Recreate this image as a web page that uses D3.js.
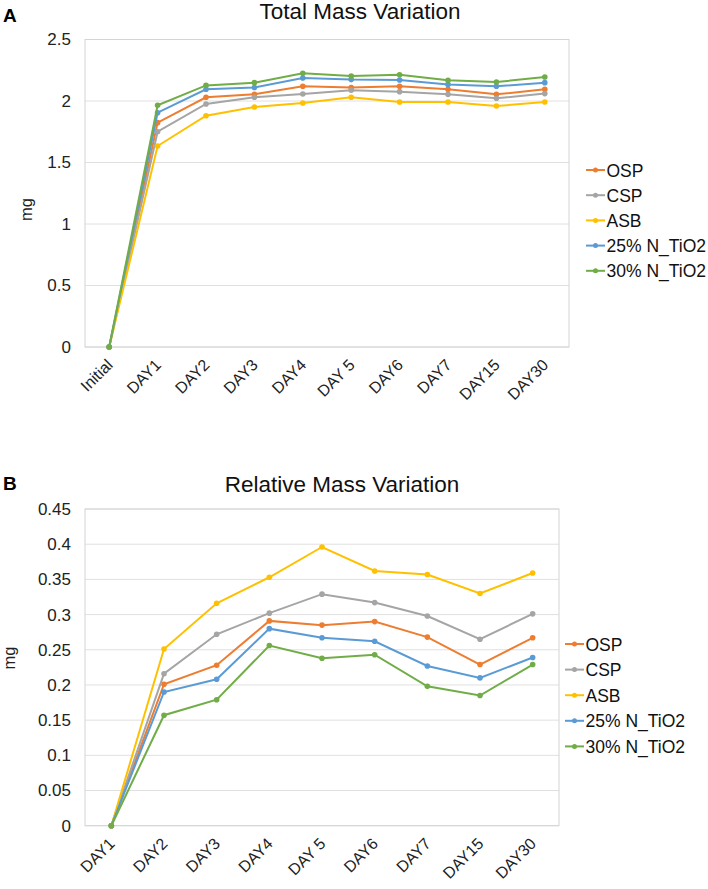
<!DOCTYPE html>
<html>
<head>
<meta charset="utf-8">
<script src="https://cdn.jsdelivr.net/npm/d3@7"></script>
<style>
body { margin: 0; background: #fff; }
text { font-family: "Liberation Sans", Arial, sans-serif; }
</style>
</head>
<body>
<svg width="708" height="889"></svg>
<script>
var seriesNames = ["OSP", "CSP", "ASB", "25% N_TiO2", "30% N_TiO2"];
var seriesColors = ["#ED7D31", "#A5A5A5", "#FFC000", "#5B9BD5", "#70AD47"];

var daysA = ["Initial", "DAY1", "DAY2", "DAY3", "DAY4", "DAY 5", "DAY6", "DAY7", "DAY15", "DAY30"];
var ospA  = [0, 1.824, 2.03, 2.054, 2.12, 2.11, 2.12, 2.095, 2.054, 2.095];
var cspA  = [0, 1.75, 1.976, 2.03, 2.057, 2.088, 2.076, 2.054, 2.022, 2.06];
var asbA  = [0, 1.634, 1.88, 1.951, 1.984, 2.03, 1.992, 1.992, 1.959, 1.992];
var n25A  = [0, 1.905, 2.095, 2.11, 2.187, 2.174, 2.171, 2.135, 2.12, 2.149];
var n30A  = [0, 1.965, 2.127, 2.149, 2.225, 2.203, 2.214, 2.168, 2.154, 2.195];
var ticksA = [0, 0.5, 1, 1.5, 2, 2.5];

var daysB = ["DAY1", "DAY2", "DAY3", "DAY4", "DAY 5", "DAY6", "DAY7", "DAY15", "DAY30"];
var ospB  = [0, 0.201, 0.228, 0.291, 0.285, 0.29, 0.268, 0.229, 0.267];
var cspB  = [0, 0.216, 0.272, 0.302, 0.329, 0.317, 0.298, 0.265, 0.301];
var asbB  = [0, 0.251, 0.316, 0.353, 0.396, 0.362, 0.357, 0.33, 0.359];
var n25B  = [0, 0.19, 0.208, 0.28, 0.267, 0.262, 0.227, 0.21, 0.239];
var n30B  = [0, 0.157, 0.179, 0.256, 0.238, 0.243, 0.198, 0.185, 0.229];
var ticksB = [0, 0.05, 0.1, 0.15, 0.2, 0.25, 0.3, 0.35, 0.4, 0.45];

var svg = d3.select("svg");

var drawChart = function(opt)
{
    var g = svg.append("g").attr("transform", "translate(" + opt.left + "," + opt.top + ")");

    var xScale = d3.scalePoint().domain(opt.days).range([0, opt.width]).padding(0.5);
    var yScale = d3.scaleLinear().domain([0, opt.max]).range([opt.height, 0]);

    // gridlines
    g.append("g")
        .selectAll("line")
        .data(opt.ticks)
        .enter()
        .append("line")
        .attr("x1", 0)
        .attr("x2", opt.width)
        .attr("y1", function(d) { return yScale(d); })
        .attr("y2", function(d) { return yScale(d); })
        .attr("stroke", "#e0e0e0")
        .attr("stroke-width", 1);

    g.append("rect")
        .attr("width", opt.width)
        .attr("height", opt.height)
        .attr("fill", "none")
        .attr("stroke", "#d4d4d4")
        .attr("stroke-width", 1);

    // y axis
    var yAxis = d3.axisLeft(yScale).tickValues(opt.ticks).tickSize(0).tickPadding(14)
        .tickFormat(function(d) { return String(+d.toFixed(2)); });
    var ya = g.append("g").call(yAxis);
    ya.select(".domain").remove();
    ya.selectAll("text").attr("font-size", "17px").attr("fill", "#222")
        .style("font-family", "'Liberation Sans', Arial, sans-serif");

    // x axis
    var xAxis = d3.axisBottom(xScale).tickSize(0);
    var xa = g.append("g").attr("transform", "translate(0," + opt.height + ")").call(xAxis);
    xa.select(".domain").remove();
    xa.selectAll("text")
        .attr("font-size", "16px")
        .attr("fill", "#222")
        .style("font-family", "'Liberation Sans', Arial, sans-serif")
        .attr("text-anchor", "end")
        .attr("dy", "0")
        .attr("y", 0)
        .attr("transform", "translate(4,19) rotate(-45)");

    // y label
    g.append("text")
        .text("mg")
        .attr("transform", "translate(" + opt.labelX + "," + opt.labelY + ") rotate(-90)")
        .attr("text-anchor", "middle")
        .attr("font-size", "16.5px")
        .attr("fill", "#222");

    var line = d3.line()
        .x(function(d, i) { return xScale(opt.days[i]); })
        .y(function(d) { return yScale(d); });

    opt.series.forEach(function(vals, s)
    {
        g.append("path")
            .datum(vals)
            .attr("d", line)
            .attr("fill", "none")
            .attr("stroke", seriesColors[s])
            .attr("stroke-width", 2);
        g.append("g")
            .selectAll("circle")
            .data(vals)
            .enter()
            .append("circle")
            .attr("cx", function(d, i) { return xScale(opt.days[i]); })
            .attr("cy", function(d) { return yScale(d); })
            .attr("r", 2.8)
            .attr("fill", seriesColors[s]);
    });

    // legend
    var lg = svg.append("g").attr("transform", "translate(" + opt.legX + "," + opt.legY + ")");
    var items = lg.selectAll("g")
        .data(seriesNames)
        .enter()
        .append("g")
        .attr("transform", function(d, i) { return "translate(0," + (i * opt.legStep) + ")"; });
    items.append("line")
        .attr("x1", 0).attr("x2", 19)
        .attr("stroke", function(d, i) { return seriesColors[i]; })
        .attr("stroke-width", 2);
    items.append("circle")
        .attr("cx", 9.5).attr("r", 2.5)
        .attr("fill", function(d, i) { return seriesColors[i]; });
    items.append("text")
        .text(function(d) { return d; })
        .attr("x", 20.5)
        .attr("y", 6.5)
        .attr("font-size", "17.5px")
        .attr("fill", "#111");

    // title
    svg.append("text")
        .text(opt.title)
        .attr("x", opt.titleX)
        .attr("y", opt.titleY)
        .attr("text-anchor", "middle")
        .attr("font-size", "22.5px")
        .attr("fill", "#111");

    svg.append("text")
        .text(opt.letter)
        .attr("x", 3)
        .attr("y", opt.letterY)
        .attr("font-size", "19px")
        .attr("font-weight", "bold")
        .attr("fill", "#000");
}

drawChart({
    left: 85, top: 39.5, width: 484, height: 307.5, max: 2.5,
    days: daysA, ticks: ticksA, series: [ospA, cspA, asbA, n25A, n30A],
    legX: 586, legY: 170, legStep: 25.2, title: "Total Mass Variation", titleX: 360, titleY: 19,
    letter: "A", letterY: 22, labelX: -53, labelY: 170
});

drawChart({
    left: 85, top: 509, width: 474, height: 316.7, max: 0.45,
    days: daysB, ticks: ticksB, series: [ospB, cspB, asbB, n25B, n30B],
    legX: 565, legY: 644, legStep: 25.6, title: "Relative Mass Variation", titleX: 342, titleY: 492,
    letter: "B", letterY: 490, labelX: -70, labelY: 149
});
</script>
</body>
</html>
